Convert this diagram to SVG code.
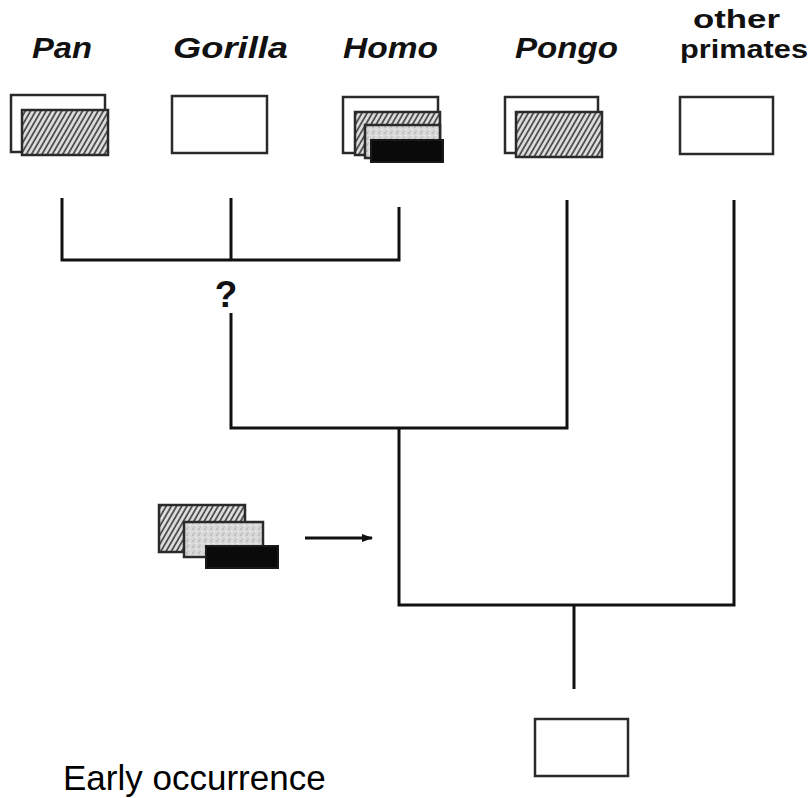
<svg xmlns="http://www.w3.org/2000/svg" width="811" height="798" viewBox="0 0 811 798">
  <defs>
    <pattern id="hatch" patternUnits="userSpaceOnUse" width="4.5" height="10" patternTransform="rotate(30)">
      <rect width="4.5" height="10" fill="#dedede"/>
      <line x1="1" y1="0" x2="1" y2="10" stroke="#444" stroke-width="1.7"/>
    </pattern>
    <pattern id="stipple" patternUnits="userSpaceOnUse" width="6" height="6">
      <rect width="6" height="6" fill="#d8d8d8"/>
      <circle cx="1" cy="1" r="0.8" fill="#a0a0a0"/>
      <circle cx="4" cy="3.5" r="0.8" fill="#f4f4f4"/>
      <circle cx="2" cy="5" r="0.6" fill="#999"/>
    </pattern>
    <marker id="arrow" markerWidth="11" markerHeight="10" refX="10" refY="5" orient="auto" markerUnits="userSpaceOnUse">
      <path d="M0,1 L11,5 L0,9 Z" fill="#111"/>
    </marker>
  </defs>
  <style>
    .lbl { font-family: "Liberation Sans", Arial, sans-serif; font-weight: bold; font-style: italic; font-size: 29px; fill: #111; }
    .lblu { font-family: "Liberation Sans", Arial, sans-serif; font-weight: bold; font-size: 26px; fill: #111; }
    .box { fill: #fff; stroke: #2a2a2a; stroke-width: 2.5; }
    .hb { fill: url(#hatch); stroke: #2a2a2a; stroke-width: 2.5; }
    .sb { fill: url(#stipple); stroke: #2a2a2a; stroke-width: 2.5; }
    .bb { fill: #0a0a0a; stroke: #1a1a1a; stroke-width: 2; }
    .conn { fill: none; stroke: #111; stroke-width: 3; }
    .note { font-family: "Liberation Sans", Arial, sans-serif; font-size: 35px; fill: #000; }
    .q { font-family: "Liberation Sans", Arial, sans-serif; font-weight: bold; font-size: 37px; fill: #111; }
  </style>
  <rect width="811" height="798" fill="#fff"/>

  <g id="pan">
    <text class="lbl" x="32" y="58" textLength="60" lengthAdjust="spacingAndGlyphs">Pan</text>
    <rect class="box" x="11" y="95" width="94" height="57"/>
    <rect class="hb" x="22" y="110" width="86" height="45"/>
  </g>
  <g id="gorilla">
    <text class="lbl" x="173" y="58" textLength="115" lengthAdjust="spacingAndGlyphs">Gorilla</text>
    <rect class="box" x="172" y="96" width="95" height="57"/>
  </g>
  <g id="homo">
    <text class="lbl" x="343" y="58" textLength="95" lengthAdjust="spacingAndGlyphs">Homo</text>
    <rect class="box" x="343" y="97" width="95" height="56"/>
    <rect class="hb" x="355" y="112" width="85" height="43"/>
    <rect class="sb" x="365" y="125" width="75" height="33"/>
    <rect class="bb" x="371" y="140" width="72" height="22"/>
  </g>
  <g id="pongo">
    <text class="lbl" x="515" y="58" textLength="103" lengthAdjust="spacingAndGlyphs">Pongo</text>
    <rect class="box" x="505" y="97" width="93" height="56"/>
    <rect class="hb" x="516" y="112" width="86" height="45"/>
  </g>
  <g id="other-primates">
    <text class="lblu" x="693" y="28" textLength="87" lengthAdjust="spacingAndGlyphs">other</text>
    <text class="lblu" x="680" y="58" textLength="128" lengthAdjust="spacingAndGlyphs">primates</text>
    <rect class="box" x="680" y="97" width="93" height="57"/>
  </g>
  <g id="ancestor">
    <rect class="box" x="535" y="719" width="93" height="57"/>
  </g>
  <g id="character-change">
    <rect class="hb" x="159" y="505" width="86" height="47"/>
    <rect class="sb" x="184" y="522" width="79" height="35"/>
    <rect class="bb" x="206" y="546" width="72" height="22"/>
  </g>
  <g id="question">
    <text class="q" x="226" y="307" text-anchor="middle">?</text>
  </g>

  <g id="connectors">
    <path class="conn" d="M62,198 V260 H399 V207"/>
    <path class="conn" d="M231,198 V260"/>
    <path class="conn" d="M231,313 V428 H567 V200"/>
    <path class="conn" d="M399,428 V605 H734 V200"/>
    <path class="conn" d="M574,605 V689"/>
    <line class="conn" x1="305" y1="538" x2="372" y2="538" stroke-width="2.5" marker-end="url(#arrow)"/>
  </g>

  <text class="note" x="63" y="790">Early occurrence</text>
</svg>
